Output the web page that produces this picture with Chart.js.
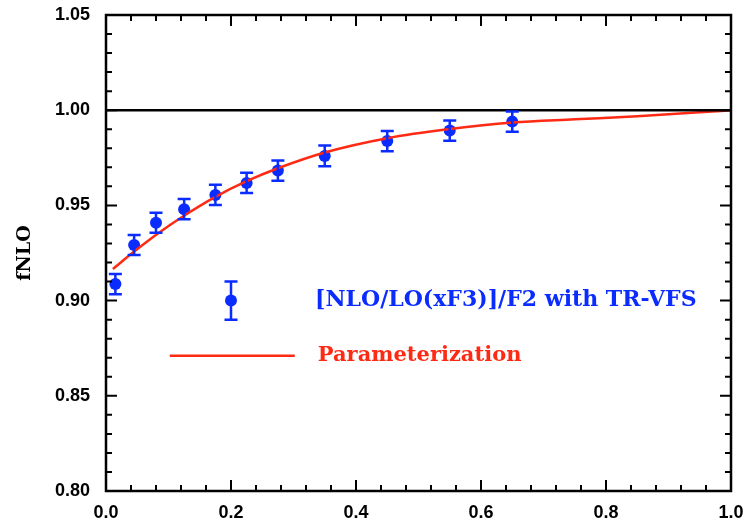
<!DOCTYPE html>
<html>
<head>
<meta charset="utf-8">
<script src="https://cdn.jsdelivr.net/npm/chart.js@4.4.1/dist/chart.umd.min.js"></script>
<style>
  html, body { margin: 0; padding: 0; background: #fff; }
  #wrap { width: 747px; height: 522px; }
</style>
</head>
<body>
<div id="wrap"><canvas id="fnlo"></canvas></div>
<script>
// NLO/LO ratio points with their errors
const xPoints = [0.015, 0.045, 0.08, 0.125, 0.175, 0.225, 0.275, 0.35, 0.45, 0.55, 0.65];
const yPoints = [0.9087, 0.9292, 0.9409, 0.9480, 0.9555, 0.9618, 0.9683, 0.9760, 0.9838, 0.9893, 0.9940];
const yErrors = [0.0053, 0.0053, 0.0053, 0.0053, 0.0053, 0.0053, 0.0053, 0.0055, 0.0053, 0.0053, 0.0053];

// parameterization curve
const xCurve = [0.011, 0.046, 0.082, 0.126, 0.175, 0.225, 0.275, 0.35, 0.45, 0.55, 0.65, 0.75, 0.85, 0.95, 1.0];
const yCurve = [0.9166, 0.9260, 0.9350, 0.9448, 0.9545, 0.9627, 0.9695, 0.9778, 0.9853, 0.9901, 0.9935, 0.9952, 0.9968, 0.9989, 1.0];

// reference line at unity
const xUnity = [0, 1];
const yUnity = [1, 1];

// legend key (sits in data units)
const keyPoint = { x: 0.2, y: 0.90, err: 0.01 };
const keyLine = { x0: 0.102, x1: 0.302, y: 0.871 };
const pointLabel = '[NLO/LO(xF3)]/F2 with TR-VFS';
const curveLabel = 'Parameterization';

const blue = '#0a2cff';
const red = '#ff2a14';

const toXY = (xs, ys) => xs.map((x, i) => ({ x: x, y: ys[i] }));

// error bars for the points + the key
const errorBars = {
  id: 'errorBars',
  afterDatasetsDraw(chart) {
    const { ctx, scales: { x, y } } = chart;
    const bar = (px, py, e) => {
      const cx = x.getPixelForValue(px);
      const y0 = y.getPixelForValue(py - e);
      const y1 = y.getPixelForValue(py + e);
      ctx.beginPath();
      ctx.moveTo(cx, y0); ctx.lineTo(cx, y1);
      ctx.moveTo(cx - 6.5, y0); ctx.lineTo(cx + 6.5, y0);
      ctx.moveTo(cx - 6.5, y1); ctx.lineTo(cx + 6.5, y1);
      ctx.stroke();
    };
    ctx.save();
    ctx.strokeStyle = blue;
    ctx.lineWidth = 2.5;
    xPoints.forEach((px, i) => bar(px, yPoints[i], yErrors[i]));
    bar(keyPoint.x, keyPoint.y, keyPoint.err);
    ctx.restore();
  }
};

// frame with inward ticks on all four sides, plus legend text
const frame = {
  id: 'frame',
  afterDraw(chart) {
    const { ctx, chartArea: a, scales: { x, y } } = chart;
    ctx.save();
    ctx.strokeStyle = '#000';
    ctx.lineWidth = 2.5;
    ctx.strokeRect(a.left, a.top, a.right - a.left, a.bottom - a.top);
    ctx.lineWidth = 2;
    ctx.beginPath();
    for (let i = 0; i <= 25; i++) {
      const px = x.getPixelForValue(i * 0.04);
      const len = i % 5 === 0 ? 11 : 6;
      ctx.moveTo(px, a.bottom); ctx.lineTo(px, a.bottom - len);
      ctx.moveTo(px, a.top); ctx.lineTo(px, a.top + len);
    }
    for (let i = 0; i <= 25; i++) {
      const py = y.getPixelForValue(0.80 + i * 0.01);
      const len = i % 5 === 0 ? 11 : 6;
      ctx.moveTo(a.left, py); ctx.lineTo(a.left + len, py);
      ctx.moveTo(a.right, py); ctx.lineTo(a.right - len, py);
    }
    ctx.stroke();

    // legend
    ctx.textBaseline = 'middle';
    ctx.font = 'bold 22px "DejaVu Serif"';
    ctx.fillStyle = blue;
    ctx.fillText(pointLabel, x.getPixelForValue(keyPoint.x) + 84, y.getPixelForValue(keyPoint.y));
    ctx.strokeStyle = red;
    ctx.lineWidth = 2.5;
    const ly = y.getPixelForValue(keyLine.y);
    ctx.beginPath();
    ctx.moveTo(x.getPixelForValue(keyLine.x0), ly);
    ctx.lineTo(x.getPixelForValue(keyLine.x1), ly);
    ctx.stroke();
    ctx.font = 'bold 21px "DejaVu Serif"';
    ctx.fillStyle = red;
    ctx.fillText(curveLabel, x.getPixelForValue(keyLine.x1) + 23, ly);
    ctx.restore();
  }
};

new Chart(document.getElementById('fnlo'), {
  type: 'scatter',
  data: {
    datasets: [
      {
        data: toXY(xUnity, yUnity),
        showLine: true,
        borderColor: '#000',
        borderWidth: 2.5,
        pointRadius: 0
      },
      {
        data: toXY(xCurve, yCurve),
        showLine: true,
        borderColor: red,
        borderWidth: 2.5,
        cubicInterpolationMode: 'monotone',
        pointRadius: 0
      },
      {
        data: toXY(xPoints, yPoints).concat([{ x: keyPoint.x, y: keyPoint.y }]),
        backgroundColor: blue,
        borderColor: blue,
        pointRadius: 6,
        borderWidth: 0
      }
    ]
  },
  options: {
    responsive: true,
    maintainAspectRatio: false,
    animation: false,
    layout: { autoPadding: false, padding: { top: 15, right: 16, left: 0, bottom: 0 } },
    plugins: { legend: { display: false }, tooltip: { enabled: false } },
    scales: {
      x: {
        type: 'linear',
        min: 0,
        max: 1,
        grid: { display: false, drawTicks: false, tickLength: 0 },
        border: { display: false },
        ticks: {
          stepSize: 0.2,
          padding: 11,
          color: '#000',
          font: { family: '"Liberation Sans"', size: 18, weight: 'bold' },
          callback: v => v.toFixed(1)
        },
        afterFit: s => {
          s.height = 31;
          s.paddingLeft = 0; s.paddingRight = 0;
        }
      },
      y: {
        type: 'linear',
        min: 0.80,
        max: 1.05,
        grid: { display: false, drawTicks: false, tickLength: 0 },
        border: { display: false },
        title: {
          display: true,
          text: 'fNLO',
          color: '#000',
          font: { family: '"DejaVu Serif"', size: 19, weight: 'bold' },
          padding: { top: 14, bottom: 0 }
        },
        ticks: {
          stepSize: 0.05,
          padding: 16,
          color: '#000',
          font: { family: '"Liberation Sans"', size: 18, weight: 'bold' },
          callback: v => v.toFixed(2)
        },
        afterFit: s => {
          s.width = 106;
          s.paddingTop = 0; s.paddingBottom = 0;
        }
      }
    }
  },
  plugins: [errorBars, frame]
});
</script>
</body>
</html>
